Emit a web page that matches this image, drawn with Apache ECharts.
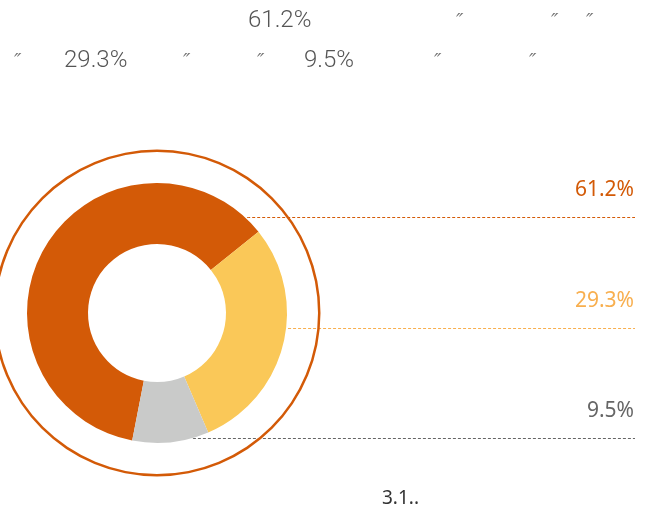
<!DOCTYPE html>
<html>
<head>
<meta charset="utf-8">
<script src="https://cdn.jsdelivr.net/npm/echarts@6/dist/echarts.min.js"></script>
<style>
html,body{margin:0;padding:0;background:#fff;}
#main{width:653px;height:514px;}
</style>
</head>
<body>
<div id="main"></div>
<script>
// shares
const names = ['a', 'b', 'c'];
const values = [61.2, 29.3, 9.5];
const colors = ['#D35A07', '#FAC858', '#C9CAC9'];
const labelColors = ['#D35A07', '#F8AF4F', '#666666'];

const chart = echarts.init(document.getElementById('main'));
const cx = 157, cy = 313, rOut = 130;

const pieData = names.map((n, i) => ({
    name: n,
    value: values[i],
    itemStyle: { color: colors[i] },
    label: { color: labelColors[i] },
    labelLine: { show: true, lineStyle: { color: labelColors[i], width: 1, type: [3, 2] } }
}));

function quote(x, y){
    return { type: 'text', left: x, top: y, style: { text: '\u2033', fill: '#777', font: 'italic 20px "DejaVu Sans"' } };
}
function topText(x, y, t){
    return { type: 'text', left: x, top: y, style: { text: t, fill: '#555', font: '300 24px Roboto' } };
}

const option = {
    animation: false,
    graphic: [
        topText(248, 9, values[0] + '%'),
        quote(456, 12), quote(551, 12), quote(586, 12),
        quote(14, 52), topText(64, 49, values[1] + '%'),
        quote(183, 52), quote(257, 52),
        topText(304, 49, values[2] + '%'),
        quote(434, 52), quote(529, 52),
        { type: 'text', left: 382, top: 489, style: { text: '3.1..', fill: '#333', font: '19px "Noto Sans"' } }
    ],
    series: [{
        type: 'pie',
        center: [cx, cy],
        radius: [161, 163.5],
        silent: true,
        label: { show: false },
        labelLine: { show: false },
        data: [{ value: 1, itemStyle: { color: '#D35A07' } }]
    }, {
        type: 'pie',
        center: [cx, cy],
        radius: [69, rOut],
        startAngle: 259,
        clockwise: true,
        silent: true,
        avoidLabelOverlap: false,
        data: pieData,
        label: {
            show: true,
            position: 'outside',
            formatter: p => p.value + '%',
            fontSize: 21,
            fontFamily: 'Noto Sans'
        },
        labelLine: { show: true },
        labelLayout: function(params){
            const i = params.dataIndex;
            const lineY = Math.round(217 + i * 110.5) + 0.5;
            const dy = lineY - cy;
            const x0 = cx + Math.sqrt(rOut * rOut - dy * dy) + 2;
            return {
                x: 634,
                y: lineY - 27,
                align: 'right',
                verticalAlign: 'middle',
                labelLinePoints: [[x0, lineY], [x0 + 1, lineY], [635, lineY]]
            };
        }
    }]
};
chart.setOption(option);
</script>
</body>
</html>
